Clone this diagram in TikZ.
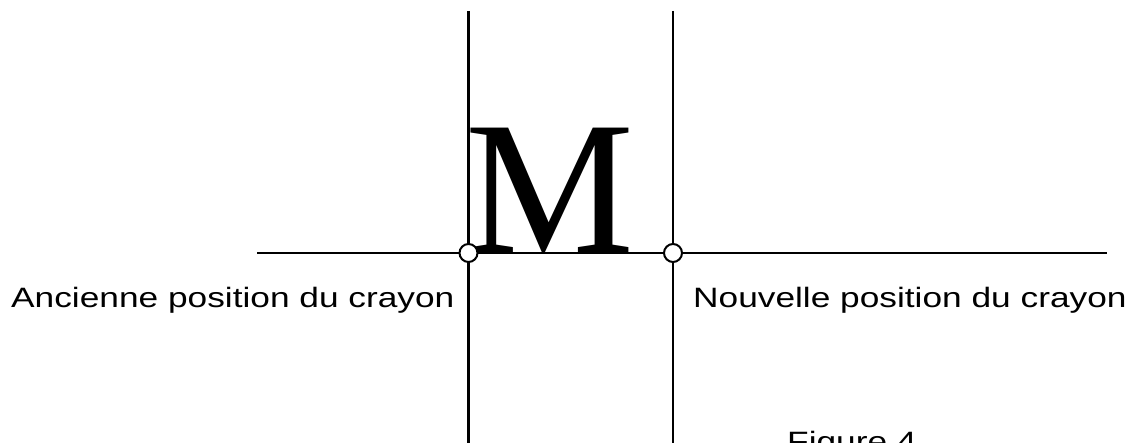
\documentclass[tikz,border=0pt]{standalone}
\usepackage{fontspec}
\setmainfont{Liberation Serif}
\setsansfont{Liberation Sans}
\usepackage{tikz}
\usetikzlibrary{positioning,calc}
\tikzset{
  guide/.style={line width=2.2pt,black},
  penpt/.style={circle,draw=black,fill=white,line width=2pt,minimum size=18pt,
    inner sep=0pt},
  biglet/.style={inner sep=0pt,font=\fontsize{190}{190}\selectfont},
  poslbl/.style={inner sep=0pt,font=\sffamily\fontsize{28}{28}\selectfont},
}
\newcommand{\stretched}[1]{\scalebox{1.26}[1]{#1}}

\begin{document}
\begin{tikzpicture}[x=1pt,y=1pt]
  \clip (0,0) rectangle (1130,443);
  \coordinate (ltop) at (468.5,432);
  \coordinate (lbot) at (468.5,0);
  \coordinate (rtop) at (673,432);
  \coordinate (rbot) at (673,0);
  \coordinate (hl) at (257,190);
  \coordinate (hr) at (1107,190);
  \draw[guide] (ltop)--(lbot);
  \draw[guide] (rtop)--(rbot);
  \draw[guide] (hl)--(hr);
  \node[biglet,anchor=base west] (m) at (465,190) {M};
  \node[penpt] (old) at (468.5,190) {};
  \node[penpt] (new) at (673,190) {};
  \node[poslbl,anchor=base west] (oldlbl) at (11,135) {\stretched{Ancienne position du crayon}};
  \node[poslbl,anchor=base west] (newlbl) at (693,135) {\stretched{Nouvelle position du crayon}};
  \node[poslbl,anchor=base west] (fig) at (787,-9) {\stretched{Figure 4}};
\end{tikzpicture}
\end{document}
